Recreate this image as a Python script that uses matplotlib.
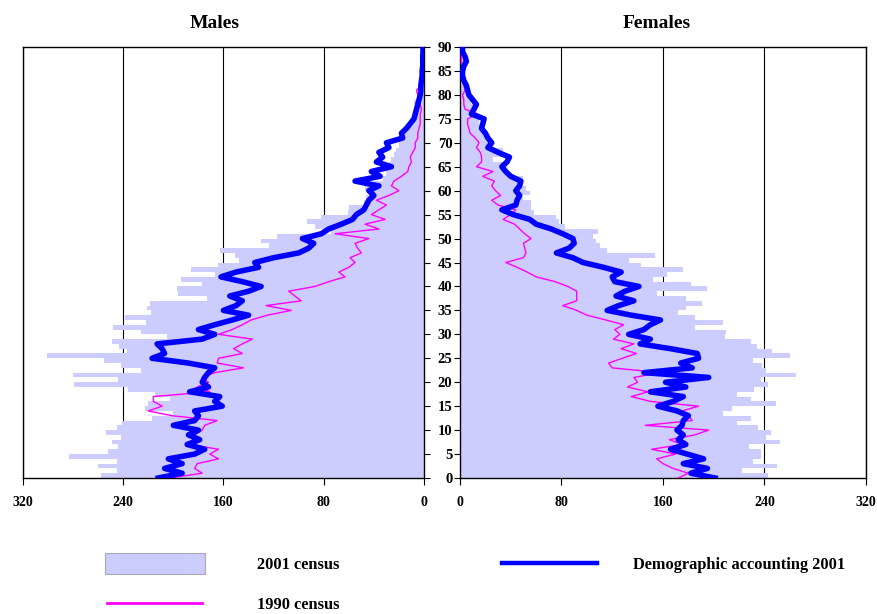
import matplotlib
matplotlib.use("Agg")
import matplotlib.pyplot as plt
from matplotlib.lines import Line2D
from matplotlib.patches import Rectangle
import numpy as np

plt.rcParams['font.family'] = ['Liberation Serif', 'DejaVu Serif']
plt.rcParams['font.weight'] = 'bold'

ages_bars = np.arange(0, 90)
ages_lines = np.arange(0, 91)
x_ticks = [0, 80, 160, 240, 320]
age_ticks = list(range(0, 91, 5))

male_census_2001 = [258,245,260,245,283,252,244,249,242,254,245,241,217,200,223,220,203,215,236,279,244,280,226,242,255,301,237,243,249,205,226,248,
                    222,239,218,221,219,173,196,197,177,194,167,186,164,148,151,163,124,130,117,74,87,93,82,61,60,48,46,44,47,40,
                    33,30,30,28,26,24,22,20,20,15,14,12,10,9,8,7,8,5,4,3,3,2,2,2,1,1,1,1]
male_accounting_2001 = [212,193,207,193,204,183,175,189,179,188,180,200,183,180,183,161,167,163,187,172,177,175,172,167,188,217,207,209,213,177,167,180,167,153,
                        140,160,150,145,155,140,130,145,162,150,132,135,120,100,92,88,97,82,76,66,57,54,48,46,44,40,44,36,
                        55,35,42,26,38,33,36,28,30,17,18,14,11,8,7,6,5,4,3,2.5,2.5,2,1.5,1.5,1,1,1,0.8,0.8]
male_census_1990 = [203,177,183,181,164,171,164,187,179,183,177,175,165,201,220,209,216,216,171,181,172,177,167,144,165,164,145,152,145,137,164,153,145,138,
                    125,106,126,98,103,108,87,76,63,68,60,55,59,50,53,55,44,71,36,47,31,42,36,30,38,28,20,26,
                    24,18,13,12,10,11,9,7,7,5,5,4,3,3,3,2,3,3,5,6,2,2,1,1,1,1,2,1,1]

female_census_2001 = [243,222,250,231,237,237,228,252,241,245,235,218,229,207,214,249,229,218,232,243,237,265,241,238,231,260,246,234,229,209,210,185,207,
                      185,172,178,191,178,155,195,182,152,163,176,143,133,154,116,110,107,105,109,83,78,76,58,56,56,50,55,52,47,
                      50,40,38,36,26,34,34,25,22,20,19,17,15,12,12,10,9,7,6,5,4,4,3,3,3,6,5,2]
female_accounting_2001 = [201,182,195,176,192,179,166,178,172,176,171,175,176,180,171,156,168,176,150,178,162,196,145,183,174,188,187,166,142,150,133,145,150,158,
                          135,116,125,137,123,130,141,122,120,127,113,97,89,76,86,90,89,81,72,60,55,42,33,44,45,47,44,47,
                          48,40,36,33,37,39,30,22,25,22,20,17,18,19,9,11,13,10,7,6,5,3,2,2,3,5,4,2,2]
female_census_1990 = [172,180,168,160,155,170,151,175,165,185,196,146,183,180,175,188,150,135,148,132,140,137,158,120,117,128,139,127,137,121,126,122,129,115,
                      100,92,81,92,92,92,85,75,60,53,45,36,50,52,51,50,56,51,47,43,34,40,44,30,25,32,28,25,
                      27,18,26,13,17,17,16,13,15,12,8,7,6,6,14,4,3,3,2,4,3,2,1,1,2,1,1,1,1]

BAR_C = '#CCCCFF'
BLUE = '#0000FF'
PINK = '#FF00FF'

W, H = 878, 614
fig = plt.figure(figsize=(W/100, H/100), dpi=100)

def fx(px):
    return px / W

def fy(py):
    return 1 - py / H

top, bottom = 47, 478
axL = fig.add_axes([fx(23), fy(bottom), fx(424 - 23), (bottom - top) / H])
axR = fig.add_axes([fx(460), fy(bottom), fx(866 - 460), (bottom - top) / H])

for ax, cen, acc, old in [(axL, male_census_2001, male_accounting_2001, male_census_1990),
                          (axR, female_census_2001, female_accounting_2001, female_census_1990)]:
    ax.barh(ages_bars + 0.5, cen, height=1.0, color=BAR_C, linewidth=0, zorder=1)
    ax.plot(acc, ages_lines, color=BLUE, lw=4.0, zorder=4, solid_joinstyle='round')
    ax.plot(old, ages_lines, color=PINK, lw=1.0, zorder=3)
    ax.set_ylim(0, 90)
    ax.set_xticks(x_ticks)
    ax.set_yticks(age_ticks)
    ax.grid(axis='x', color='black', lw=0.8, zorder=0)
    ax.set_axisbelow(True)
    for s in ax.spines.values():
        s.set_color('black')
        s.set_linewidth(1.0)
    ax.tick_params(axis='x', direction='out', length=5, width=0.8, pad=8, labelsize=10)
    for lab in ax.get_xticklabels():
        lab.set_fontweight('bold')

axL.set_xlim(320, 0)
axL.yaxis.tick_right()
axL.tick_params(axis='y', direction='out', length=4, width=0.8, labelright=False, labelleft=False)

axR.set_xlim(0, 320)
axR.tick_params(axis='y', direction='out', length=4, width=0.8, pad=1.5, labelsize=10.5)
for lab in axR.get_yticklabels():
    lab.set_fontweight('bold')

fig.text(fx(215), fy(23), 'Males', ha='center', va='center', fontsize=14, fontweight='bold')
fig.text(fx(657), fy(23), 'Females', ha='center', va='center', fontsize=14, fontweight='bold')

# legend
fig.patches.append(Rectangle((fx(105), fy(574)), fx(100), 21 / H, transform=fig.transFigure,
                             facecolor=BAR_C, edgecolor='#AAAAAA', lw=0.8))
fig.text(fx(257), fy(565), '2001 census', ha='left', va='center', fontsize=11.8, fontweight='bold')
fig.lines.append(Line2D([fx(502), fx(597)], [fy(563), fy(563)], transform=fig.transFigure,
                        color=BLUE, lw=3.2))
fig.text(fx(633), fy(565), 'Demographic accounting 2001', ha='left', va='center', fontsize=11.8, fontweight='bold')
fig.lines.append(Line2D([fx(107), fx(202)], [fy(603), fy(603)], transform=fig.transFigure,
                        color=PINK, lw=2.0))
fig.text(fx(257), fy(605), '1990 census', ha='left', va='center', fontsize=11.8, fontweight='bold')

fig.savefig('out.png', dpi=100)
